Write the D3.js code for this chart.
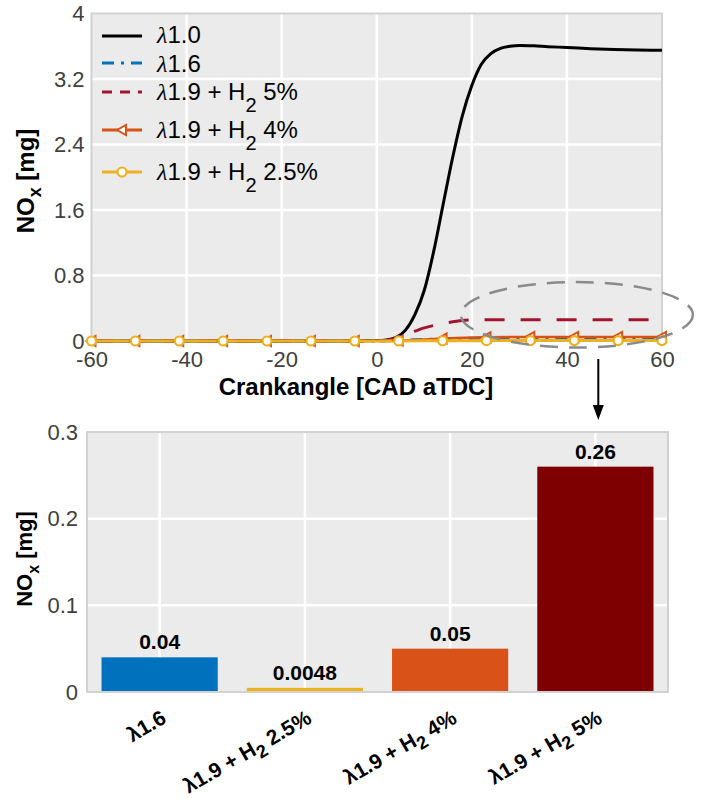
<!DOCTYPE html>
<html><head><meta charset="utf-8">
<script src="https://cdn.jsdelivr.net/npm/d3@7"></script>
<style>
body{margin:0;background:#fff;}
svg{display:block;font-family:"Liberation Sans",Arial,Helvetica,sans-serif;}
</style></head><body>
<svg id="chart" width="708" height="799"></svg>
<script>
// ---- cumulative NOx traces over crank angle ----
const cad = [-60,-40,-20,-10,0,2,4,6,8,10,12,14,16,18,20,22,24,26,28,30,33,36,40,45,50,55,60];
const noxLambda10 = [0,0,0,0,0.005,0.012,0.04,0.13,0.32,0.62,1.1,1.68,2.25,2.75,3.12,3.38,3.51,3.575,3.6,3.61,3.605,3.595,3.585,3.57,3.56,3.555,3.55];
const noxLambda16 = [0,0,0,0,0.001,0.003,0.006,0.01,0.014,0.018,0.022,0.026,0.029,0.032,0.034,0.036,0.037,0.038,0.039,0.04,0.04,0.04,0.04,0.04,0.04,0.04,0.04];
const noxH2_5 = [0,0,0,0,0,0.005,0.035,0.08,0.12,0.16,0.19,0.215,0.235,0.25,0.257,0.26,0.26,0.26,0.26,0.26,0.26,0.26,0.26,0.26,0.26,0.26,0.26];

// marker stations of the two marked traces
const cadMarked = [-60,-50.77,-41.54,-32.31,-23.08,-13.85,-4.62,4.62,13.85,23.08,32.31,41.54,50.77,60];
const noxH2_4 = [0,0,0,0,0,0,0,0.004,0.03,0.045,0.05,0.05,0.05,0.05];
const noxH2_25 = [0,0,0,0,0,0,0,0.001,0.003,0.0045,0.0048,0.0048,0.0048,0.0048];

const seriesNames = ["λ1.0","λ1.6","λ1.9 + H2 5%","λ1.9 + H2 4%","λ1.9 + H2 2.5%"];
const xTicks = [-60,-40,-20,0,20,40,60];
const yTicks = [0,0.8,1.6,2.4,3.2,4];

// ---- end-of-cycle NOx per case ----
const barCases = ["λ1.6","λ1.9 + H2 2.5%","λ1.9 + H2 4%","λ1.9 + H2 5%"];
const barValues = [0.04,0.0048,0.05,0.26];
const barLabels = ["0.04","0.0048","0.05","0.26"];
const barTicks = [0,0.1,0.2,0.3];

const C = {black:"#000000", blue:"#0072BD", red:"#A2142F", orange:"#D95319", yellow:"#EDB120", maroon:"#7E0000"};
const barColors = [C.blue, C.yellow, C.orange, C.maroon];
const tickColor = "#404040", gridBg = "#EBEBEB", frameColor = "#D2D2D2";
const plainNum = d => String(d);   // hyphen-minus, no trailing zeros

const svg = d3.select("#chart");

// writes "…H2…" with the 2 as a subscript
function richText(sel, str, opt) {
  const m = str.match(/^(.*H)2(.*)$/);
  const head = m ? m[1] : str;
  const lam = head.startsWith("λ");
  if (lam) {
    const t = sel.append("tspan").text("λ");
    if (opt.lambdaItalic) t.attr("font-family", "'Liberation Serif','DejaVu Serif',serif").attr("font-style", "italic");
  }
  sel.append("tspan").text(lam ? head.slice(1) : head);
  if (m) {
    sel.append("tspan").attr("dy", opt.subDy).attr("font-size", opt.subSize).text("2");
    sel.append("tspan").attr("dy", -opt.subDy).text(m[2]);
  }
}

// ================= top panel: traces =================
const P = {l:91.5, r:662, t:13.5, b:341};
const x1 = d3.scaleLinear().domain([-60,60]).range([P.l, P.r]);
const y1 = d3.scaleLinear().domain([0,4]).range([P.b, P.t]);

const g1 = svg.append("g");
g1.append("rect").attr("x", P.l).attr("y", P.t).attr("width", P.r-P.l).attr("height", P.b-P.t).attr("fill", gridBg);
g1.selectAll("line.gx").data(xTicks.slice(1,-1)).join("line")
  .attr("x1", d=>x1(d)).attr("x2", d=>x1(d)).attr("y1", P.t).attr("y2", P.b)
  .attr("stroke", "#fff").attr("stroke-width", 2.5);
g1.selectAll("line.gy").data(yTicks.slice(1,-1)).join("line")
  .attr("y1", d=>y1(d)).attr("y2", d=>y1(d)).attr("x1", P.l).attr("x2", P.r)
  .attr("stroke", "#fff").attr("stroke-width", 2.5);
g1.append("rect").attr("x", P.l).attr("y", P.t).attr("width", P.r-P.l).attr("height", P.b-P.t)
  .attr("fill", "none").attr("stroke", frameColor).attr("stroke-width", 2);

const yAx1 = g1.append("g").attr("transform", `translate(${P.l - 7},0)`)
  .call(d3.axisLeft(y1).tickValues(yTicks).tickSize(0).tickPadding(0).tickFormat(plainNum));
const xAx1 = g1.append("g").attr("transform", `translate(0,${P.b + 5})`)
  .call(d3.axisBottom(x1).tickValues(xTicks).tickSize(0).tickPadding(0).tickFormat(plainNum));
[yAx1, xAx1].forEach(a => {
  a.select(".domain").remove();
  a.selectAll("text").attr("font-size", 22).attr("fill", tickColor).attr("font-family", "'Liberation Sans',Arial,sans-serif");
});
xAx1.selectAll("text").attr("dy", "0.95em").attr("y", 0);

const line1 = (xs, ys) => d3.line().x((d,i)=>x1(xs[i])).y(d=>y1(d)).curve(d3.curveMonotoneX)(ys);
const traces = g1.append("g").attr("fill", "none").attr("stroke-width", 3);
traces.append("path").attr("d", line1(cad, noxLambda10)).attr("stroke", C.black);
traces.append("path").attr("d", line1(cad, noxLambda16)).attr("stroke", C.blue).attr("stroke-dasharray", "12,7,3,7");
traces.append("path").attr("d", line1(cad, noxH2_5)).attr("stroke", C.red).attr("stroke-dasharray", "20,16");
traces.append("path").attr("d", line1(cadMarked, noxH2_4)).attr("stroke", C.orange).attr("stroke-width", 2.5);
traces.append("path").attr("d", line1(cadMarked, noxH2_25)).attr("stroke", C.yellow).attr("stroke-width", 3);

const triPath = "M-5,0L4,-5L4,5Z";
g1.selectAll("path.tri").data(noxH2_4).join("path").attr("class","tri")
  .attr("d", triPath).attr("transform", (d,i)=>`translate(${x1(cadMarked[i])},${y1(d)})`)
  .attr("fill", "#fff").attr("stroke", C.orange).attr("stroke-width", 2);
g1.selectAll("circle.dot").data(noxH2_25).join("circle").attr("class","dot")
  .attr("cx", (d,i)=>x1(cadMarked[i])).attr("cy", d=>y1(d)).attr("r", 4.5)
  .attr("fill", "#fff").attr("stroke", C.yellow).attr("stroke-width", 2.2);

// legend
const legRows = [36, 63, 92, 130, 172];
const legBase = [43, 72, 100, 138, 180];
const legStyles = [
  {c:C.black}, {c:C.blue, dash:"12,7,3,7"}, {c:C.red, dash:"10,8"},
  {c:C.orange, mark:"tri"}, {c:C.yellow, mark:"dot"}
];
const leg = g1.append("g");
seriesNames.forEach((name, i) => {
  const s = legStyles[i], ly = legRows[i];
  leg.append("line").attr("x1", 102).attr("x2", 142).attr("y1", ly).attr("y2", ly)
    .attr("stroke", s.c).attr("stroke-width", 3).attr("stroke-dasharray", s.dash || null);
  if (s.mark === "tri") leg.append("path").attr("d", triPath).attr("transform", `translate(122,${ly})`)
    .attr("fill", "#fff").attr("stroke", s.c).attr("stroke-width", 2);
  if (s.mark === "dot") leg.append("circle").attr("cx", 122).attr("cy", ly).attr("r", 4.5)
    .attr("fill", "#fff").attr("stroke", s.c).attr("stroke-width", 2.2);
  const t = leg.append("text").attr("x", 157).attr("y", legBase[i]).attr("font-size", 24).attr("fill", "#000");
  richText(t, name, {lambdaItalic:true, subSize:20, subDy:12});
});

// axis titles
svg.append("text").attr("x", 356).attr("y", 395).attr("text-anchor", "middle")
  .attr("font-size", 24).attr("font-weight", "bold").text("Crankangle [CAD aTDC]");
const yt1 = svg.append("text").attr("transform", "translate(34,181) rotate(-90)").attr("text-anchor", "middle")
  .attr("font-size", 24).attr("font-weight", "bold");
yt1.append("tspan").text("NO");
yt1.append("tspan").attr("dy", 7).attr("font-size", 18).text("x");
yt1.append("tspan").attr("dy", -7).text(" [mg]");

// highlighted end-of-cycle region and pointer to the lower panel
const zoomCenter = [42.1, 0.32], zoomRadii = [24.4, 0.4];
svg.append("ellipse")
  .attr("cx", x1(zoomCenter[0])).attr("cy", y1(zoomCenter[1]))
  .attr("rx", x1(zoomRadii[0]) - x1(0)).attr("ry", y1(0) - y1(zoomRadii[1]))
  .attr("fill", "none").attr("stroke", "#8A8A8A").attr("stroke-width", 2.5).attr("stroke-dasharray", "18,11");
const ax = x1(46.6);
svg.append("line").attr("x1", ax).attr("x2", ax).attr("y1", 359).attr("y2", 408).attr("stroke", "#000").attr("stroke-width", 2);
svg.append("path").attr("d", `M${ax-5.5},405L${ax+5.5},405L${ax},420Z`).attr("fill", "#000");

// ================= bottom panel: bars =================
const B = {l:87, r:668, t:432, b:692};
const xb = d3.scaleBand().domain(barCases).range([B.l, B.r]).paddingInner(0.2).paddingOuter(0.1);
const yb = d3.scaleLinear().domain([0,0.3]).range([B.b, B.t]);

const g2 = svg.append("g");
g2.append("rect").attr("x", B.l).attr("y", B.t).attr("width", B.r-B.l).attr("height", B.b-B.t).attr("fill", gridBg);
g2.selectAll("line.gx").data(barCases).join("line")
  .attr("x1", d=>xb(d)+xb.bandwidth()/2).attr("x2", d=>xb(d)+xb.bandwidth()/2).attr("y1", B.t).attr("y2", B.b)
  .attr("stroke", "#fff").attr("stroke-width", 2.5);
g2.selectAll("line.gy").data(barTicks.slice(1,-1)).join("line")
  .attr("y1", d=>yb(d)).attr("y2", d=>yb(d)).attr("x1", B.l).attr("x2", B.r)
  .attr("stroke", "#fff").attr("stroke-width", 2.5);

g2.selectAll("rect.bar").data(barValues).join("rect").attr("class","bar")
  .attr("x", (d,i)=>xb(barCases[i])).attr("width", xb.bandwidth())
  .attr("y", d=>yb(d)).attr("height", d=>yb(0)-yb(d))
  .attr("fill", (d,i)=>barColors[i]);

g2.append("rect").attr("x", B.l).attr("y", B.t).attr("width", B.r-B.l).attr("height", B.b-B.t)
  .attr("fill", "none").attr("stroke", frameColor).attr("stroke-width", 2);

g2.selectAll("text.val").data(barValues).join("text").attr("class","val")
  .attr("x", (d,i)=>xb(barCases[i])+xb.bandwidth()/2).attr("y", d=>yb(d)-8)
  .attr("text-anchor", "middle").attr("font-size", 21).attr("font-weight", "bold")
  .text((d,i)=>barLabels[i]);

const yAx2 = g2.append("g").attr("transform", `translate(${B.l - 9},0)`)
  .call(d3.axisLeft(yb).tickValues(barTicks).tickSize(0).tickPadding(0).tickFormat(plainNum));
yAx2.select(".domain").remove();
yAx2.selectAll("text").attr("font-size", 22).attr("fill", tickColor).attr("font-family", "'Liberation Sans',Arial,sans-serif");

const xAx2 = g2.append("g").attr("transform", `translate(0,${B.b})`)
  .call(d3.axisBottom(xb).tickSize(0).tickFormat(""));
xAx2.select(".domain").remove();
xAx2.selectAll(".tick").each(function(d) {
  const t = d3.select(this).select("text").text(null)
    .attr("y", 0).attr("dy", null)
    .attr("transform", "translate(8,30) rotate(-30)")
    .attr("text-anchor", "end").attr("font-size", 21).attr("font-weight", "bold").attr("fill", "#000")
    .attr("font-family", "'Liberation Sans',Arial,sans-serif");
  richText(t, d, {lambdaItalic:false, subSize:18, subDy:6});
});

const yt2 = svg.append("text").attr("transform", "translate(32,559) rotate(-90)").attr("text-anchor", "middle")
  .attr("font-size", 22).attr("font-weight", "bold");
yt2.append("tspan").text("NO");
yt2.append("tspan").attr("dy", 7).attr("font-size", 16).text("x");
yt2.append("tspan").attr("dy", -7).text(" [mg]");
</script>
</body></html>
